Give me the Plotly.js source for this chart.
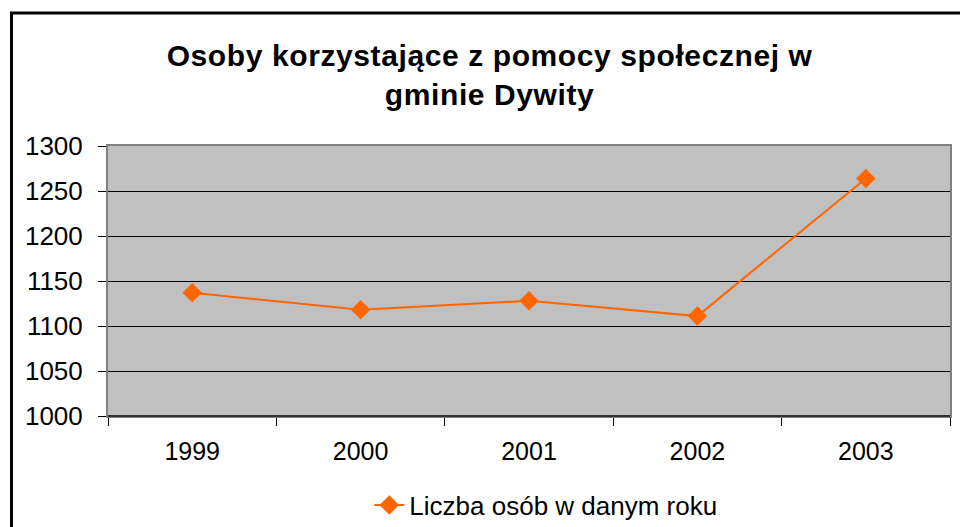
<!DOCTYPE html>
<html>
<head>
<meta charset="utf-8">
<script src="https://cdn.plot.ly/plotly-3.0.1.min.js"></script>
<style>html,body{margin:0;padding:0;background:#fff;}#chart{width:960px;height:527px;} .gtitle{letter-spacing:0.6px;}</style>
</head>
<body>
<div id="chart"></div>
<script>
const years = ['1999', '2000', '2001', '2002', '2003'];
const persons = [1137, 1118, 1128, 1111, 1264];
const seriesName = 'Liczba osób w danym roku';
const chartTitle = 'Osoby korzystające z pomocy społecznej w<br>gminie Dywity';
const yTicks = [1000, 1050, 1100, 1150, 1200, 1250, 1300];

const font = 'Liberation Sans, Arial, sans-serif';
const trace = {
  x: years, y: persons, name: seriesName, type: 'scatter', mode: 'lines+markers',
  line: {color: '#FF6600', width: 2},
  marker: {symbol: 'diamond', size: 15, color: '#FF6600'}
};
const layout = {
  width: 960, height: 527,
  margin: {l: 108, r: 10, t: 146, b: 111, autoexpand: false},
  paper_bgcolor: '#ffffff', plot_bgcolor: '#C0C0C0',
  font: {family: font, color: '#000', size: 24},
  title: {text: chartTitle, x: 0.51, xref: 'container', xanchor: 'center', y: 0.875, yref: 'container', yanchor: 'middle',
          font: {family: font, size: 30, color: '#000', weight: 'bold'}},
  showlegend: true,
  legend: {orientation: 'h', x: 0.52, xanchor: 'center', y: -0.33, yanchor: 'middle', font: {size: 26}, bgcolor: 'rgba(0,0,0,0)'},
  xaxis: {type: 'category', range: [-0.5, 4.5], tickson: 'boundaries', ticks: 'outside', ticklen: 8, tickcolor: '#000', tickwidth: 1,
          showline: true, linecolor: '#808080', linewidth: 2, mirror: true, showgrid: false,
          tickfont: {size: 25}, ticklabelstandoff: 12, fixedrange: true},
  yaxis: {range: [1000, 1300], tickvals: yTicks, ticks: 'outside', ticklen: 8, tickcolor: '#000', tickwidth: 1,
          showline: true, linecolor: '#808080', linewidth: 2, mirror: true, showgrid: true, gridcolor: '#000', gridwidth: 1,
          tickfont: {size: 26}, ticklabelstandoff: 10, zeroline: false, fixedrange: true},
  shapes: [
    {type: 'line', xref: 'paper', yref: 'paper', x0: 0, x1: 1, y0: 0, y1: 0, line: {color: '#303030', width: 2}},
    {type: 'line', xref: 'paper', yref: 'paper', x0: -0.1146, x1: -0.1146, y0: -0.42, y1: 1.493, line: {color: '#000', width: 3}},
    {type: 'line', xref: 'paper', yref: 'paper', x0: -0.1164, x1: 1.02, y0: 1.493, y1: 1.493, line: {color: '#000', width: 3}}
  ]
};
Plotly.newPlot('chart', [trace], layout, {displayModeBar: false, staticPlot: true});
</script>
</body>
</html>
